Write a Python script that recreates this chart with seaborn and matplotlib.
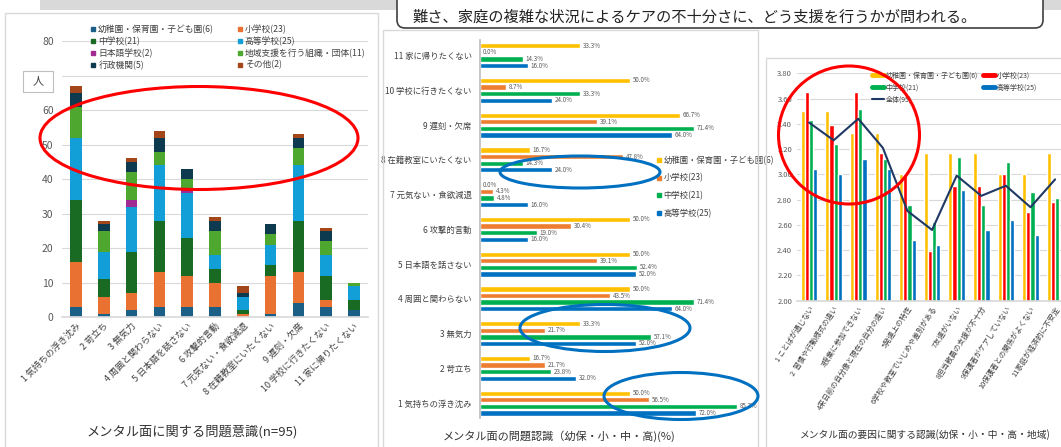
import numpy as np
import pandas as pd
import seaborn as sns
import matplotlib.pyplot as plt
from matplotlib.patches import Ellipse, Rectangle, FancyBboxPatch
from matplotlib.lines import Line2D

sns.set_theme(style="white")
plt.rcParams['font.family'] = ['Noto Sans CJK JP', 'DejaVu Sans']

# ---- 左: メンタル面に関する問題意識 (人数, 積み上げ) ----
items1 = ["1 気持ちの浮き沈み", "2 苛立ち", "3 無気力", "4 周囲と関わらない",
          "5 日本語を話さない", "6 攻撃的言動", "7 元気ない・食欲減退",
          "8 在籍教室にいたくない", "9 遅刻・欠席", "10 学校に行きたくない",
          "11 家に帰りたくない"]
groups1 = ["幼稚園・保育園・子ども園(6)", "小学校(23)", "中学校(21)", "高等学校(25)",
           "日本語学校(2)", "地域支援を行う組織・団体(11)", "行政機関(5)", "その他(2)"]
kinder1 = [3, 1, 2, 3, 3, 3, 0, 1, 4, 3, 2]
elem1 = [13, 5, 5, 10, 9, 7, 1, 11, 9, 2, 0]
junior1 = [18, 5, 12, 15, 11, 4, 1, 3, 15, 7, 3]
high1 = [18, 8, 13, 16, 13, 4, 4, 6, 16, 6, 4]
jpn1 = [0, 0, 2, 0, 1, 0, 0, 0, 0, 0, 0]
local1 = [9, 6, 8, 4, 3, 7, 0, 3, 5, 4, 1]
admin1 = [4, 2, 3, 4, 3, 3, 1, 3, 3, 3, 0]
other1 = [2, 1, 1, 2, 0, 1, 2, 0, 1, 1, 0]
colors1 = ["#1B5E86", "#E97132", "#196B24", "#129ED6", "#A02B93", "#4EA72E", "#0E3A50", "#A3461A"]

# ---- 中: メンタル面の問題認識 (%) ----
items2 = ["11 家に帰りたくない", "10 学校に行きたくない", "9 遅刻・欠席",
          "8 在籍教室にいたくない", "7 元気ない・食欲減退", "6 攻撃的言動",
          "5 日本語を話さない", "4 周囲と関わらない", "3 無気力", "2 苛立ち",
          "1 気持ちの浮き沈み"]
groups2 = ["幼稚園・保育園・子ども園(6)", "小学校(23)", "中学校(21)", "高等学校(25)"]
kinder2 = [33.3, 50.0, 66.7, 16.7, 0.0, 50.0, 50.0, 50.0, 33.3, 16.7, 50.0]
elem2 = [0.0, 8.7, 39.1, 47.8, 4.3, 30.4, 39.1, 43.5, 21.7, 21.7, 56.5]
junior2 = [14.3, 33.3, 71.4, 14.3, 4.8, 19.0, 52.4, 71.4, 57.1, 23.8, 85.7]
high2 = [16.0, 24.0, 64.0, 24.0, 16.0, 16.0, 52.0, 64.0, 52.0, 32.0, 72.0]
colors2 = ["#FFC000", "#ED7D31", "#00B050", "#0070C0"]

# ---- 右: メンタル面の要因に関する認識 (平均) ----
items3 = ["1 ことばが通じない", "2  習慣や行動様式の違い", "3授業に参加できない",
          "4来日前の自分像と現在の自分の違い", "5発達上の特性",
          "6学校や教室でいじめや差別がある", "7友達がいない", "8担当教員の支援が不十分",
          "9保護者がケアしていない", "10保護者との関係がよくない", "11家庭が経済的に不安定"]
groups3 = ["幼稚園・保育園・子ども園(6)", "小学校(23)", "中学校(21)", "高等学校(25)"]
kinder3 = [3.50, 3.50, 3.33, 3.33, 3.00, 3.17, 3.17, 3.17, 3.00, 3.00, 3.17]
elem3 = [3.65, 3.39, 3.65, 3.17, 3.00, 2.39, 2.91, 2.91, 3.00, 2.70, 2.78]
junior3 = [3.43, 3.24, 3.52, 3.12, 2.76, 2.62, 3.14, 2.76, 3.10, 2.86, 2.81]
high3 = [3.04, 3.00, 3.12, 3.04, 2.48, 2.44, 2.88, 2.56, 2.64, 2.52, np.nan]
overall3 = [3.41, 3.27, 3.44, 3.21, 2.71, 2.56, 2.99, 2.83, 2.91, 2.74, 2.96]
colors3 = ["#FFC000", "#FF0000", "#00B050", "#0070C0"]
line_color = "#1F3864"

W, H = 1061, 447
fig = plt.figure(figsize=(W / 100, H / 100), dpi=100)


def box(px0, py0, px1, py1):
    # ピクセル座標 (左上原点) -> figure 座標
    return [px0 / W, 1 - py1 / H, (px1 - px0) / W, (py1 - py0) / H]


# 背景の枠
fig.add_artist(Rectangle((40 / W, 1 - 10 / H), 1, 10 / H, transform=fig.transFigure,
                         color="#D9D9D9", lw=0))
for x0, y0, x1, y1 in [(5, 13, 378, 460), (383, 30, 758, 460), (766, 58, 1070, 460)]:
    fig.add_artist(Rectangle((x0 / W, 1 - y1 / H), (x1 - x0) / W, (y1 - y0) / H,
                             transform=fig.transFigure, fc="none", ec="#D9D9D9", lw=1))
fig.add_artist(FancyBboxPatch((3.97, (H - 28) / 100), 10.43 - 3.97, 0.6,
                              boxstyle="round,pad=0,rounding_size=0.08",
                              transform=fig.dpi_scale_trans, fc="white", ec="#404040", lw=1.2))
fig.text(413 / W, 1 - 17 / H, "難さ、家庭の複雑な状況によるケアの不十分さに、どう支援を行うかが問われる。",
         fontsize=11, va="center", ha="left", color="#222222")

# ================= 左パネル =================
ax1 = fig.add_axes(box(62, 41, 368, 317.3))
stack = np.cumsum(np.array([kinder1, elem1, junior1, high1, jpn1, local1, admin1, other1]), axis=0)
for i in range(len(groups1) - 1, -1, -1):
    sns.barplot(x=items1, y=stack[i], color=colors1[i], width=0.42, saturation=1,
                errorbar=None, linewidth=0, ax=ax1)
ax1.set_ylim(0, 80)
ax1.set_xlim(-0.5, 10.5)
ax1.set_yticks(range(0, 81, 10))
ax1.set_xticks(range(len(items1)))
ax1.set_xticklabels(items1, rotation=45, ha="right", rotation_mode="anchor",
                    fontsize=6.5, color="#404040")
ax1.tick_params(axis="y", labelsize=7.5, labelcolor="#595959", length=0, pad=6)
ax1.tick_params(axis="x", length=0, pad=3)
ax1.grid(axis="y", color="#D9D9D9", lw=0.8)
ax1.set_axisbelow(True)
for s in ["top", "left", "right"]:
    ax1.spines[s].set_visible(False)
ax1.spines["bottom"].set_color("#D9D9D9")
ax1.set_xlabel("")
ax1.set_ylabel("")
h1 = [Line2D([], [], marker="s", ls="none", markersize=3, color=c) for c in colors1]
order = [0, 2, 4, 6, 1, 3, 5, 7]
ax1.legend([h1[i] for i in order], [groups1[i] for i in order], ncol=2, loc="upper left",
           bbox_to_anchor=(86 / W, 1 - 20 / H), bbox_transform=fig.transFigure, frameon=False,
           fontsize=6.3, labelcolor="#404040", handlelength=0.6, handletextpad=0.3,
           labelspacing=0.3, columnspacing=2.6, borderpad=0)
fig.add_artist(Rectangle((23 / W, 1 - 92 / H), 30 / W, 21 / H, transform=fig.transFigure,
                         fc="white", ec="#BFBFBF", lw=0.8))
fig.text(38 / W, 1 - 81.5 / H, "人", fontsize=8, ha="center", va="center", color="#404040")
fig.text(192 / W, 1 - 432 / H, "メンタル面に関する問題意識(n=95)", fontsize=9.5,
         ha="center", va="center", color="#333333")

# ================= 中央パネル =================
ax2 = fig.add_axes(box(480, 40, 755, 418))
df2 = pd.DataFrame({
    "item": items2 * 4,
    "group": [g for g in groups2 for _ in items2],
    "value": kinder2 + elem2 + junior2 + high2,
})
sns.barplot(data=df2, y="item", x="value", hue="group", orient="h", order=items2,
            hue_order=groups2, palette=colors2, width=0.76, gap=0.2, saturation=1,
            errorbar=None, legend=False, ax=ax2)
for c in ax2.containers:
    ax2.bar_label(c, fmt="%.1f%%", padding=2, fontsize=4.5, color="#595959")
ax2.set_xlim(0, 91.8)
ax2.set_ylim(10.43, -0.45)
ax2.set_xticks([])
ax2.tick_params(axis="y", labelsize=6, labelcolor="#404040", length=0, pad=6)
for s in ["top", "right", "bottom"]:
    ax2.spines[s].set_visible(False)
ax2.spines["left"].set_color("#BFBFBF")
ax2.set_xlabel("")
ax2.set_ylabel("")
h2 = [Line2D([], [], marker="s", ls="none", markersize=3, color=c) for c in colors2]
ax2.legend(h2, groups2, loc="upper left", bbox_to_anchor=(652 / W, 1 - 152 / H),
           bbox_transform=fig.transFigure, frameon=False, fontsize=6, labelcolor="#404040",
           handlelength=0.6, handletextpad=0.3, labelspacing=1.0, borderpad=0)
fig.text(559 / W, 1 - 436 / H, "メンタル面の問題認識（幼保・小・中・高)(%)", fontsize=8,
         ha="center", va="center", color="#333333")

# ================= 右パネル =================
ax3 = fig.add_axes(box(797, 73.3, 1061, 300.7))
df3 = pd.DataFrame({
    "item": items3 * 4,
    "group": [g for g in groups3 for _ in items3],
    "value": kinder3 + elem3 + junior3 + high3,
})
sns.barplot(data=df3, x="item", y="value", hue="group", order=items3, hue_order=groups3,
            palette=colors3, width=0.68, saturation=1, errorbar=None, legend=False, ax=ax3)
sns.lineplot(x=np.arange(len(items3)), y=overall3, color=line_color, lw=1.5, ax=ax3)
ax3.set_ylim(2.0, 3.8)
ax3.set_xlim(-0.49, 10.24)
ax3.set_yticks(np.arange(2.0, 3.81, 0.2))
ax3.set_yticklabels([f"{v:.2f}" for v in np.arange(2.0, 3.81, 0.2)])
ax3.set_xticks(range(len(items3)))
ax3.set_xticklabels(items3, rotation=57, ha="right", rotation_mode="anchor",
                    fontsize=5.3, color="#404040")
ax3.tick_params(axis="y", labelsize=5.5, labelcolor="#595959", length=0, pad=3.5)
ax3.tick_params(axis="x", length=0, pad=3)
ax3.grid(axis="y", color="#D9D9D9", lw=0.8)
ax3.set_axisbelow(True)
for s in ["top", "left", "right"]:
    ax3.spines[s].set_visible(False)
ax3.spines["bottom"].set_color("#D9D9D9")
ax3.set_xlabel("")
ax3.set_ylabel("")
h3 = [Line2D([], [], lw=3.5, color=c) for c in colors3]
hl = Line2D([], [], lw=1.5, color=line_color)
ax3.legend([h3[0], h3[2], hl, h3[1], h3[3]],
           [groups3[0], groups3[2], "全体(95)", groups3[1], groups3[3]],
           ncol=2, loc="upper left", bbox_to_anchor=(869 / W, 1 - 68 / H),
           bbox_transform=fig.transFigure, frameon=False, fontsize=5, labelcolor="#404040",
           handlelength=1.6, handletextpad=0.3, labelspacing=0.6, columnspacing=0.8, borderpad=0)
fig.text(925 / W, 1 - 435 / H, "メンタル面の要因に関する認識(幼保・小・中・高・地域)", fontsize=7,
         ha="center", va="center", color="#333333")

# 強調の楕円
for (cx, cy, w, h), col in [((199, 138, 318, 103), "#FF0000"),
                            ((580, 172, 160, 32), "#0070C0"),
                            ((605, 328, 170, 47), "#0070C0"),
                            ((681, 396, 154, 47), "#0070C0"),
                            ((849, 135, 141, 138), "#FF0000")]:
    fig.add_artist(Ellipse((cx / W, 1 - cy / H), w / W, h / H, transform=fig.transFigure,
                           fc="none", ec=col, lw=2.2))

fig.savefig("out.png", dpi=100)
